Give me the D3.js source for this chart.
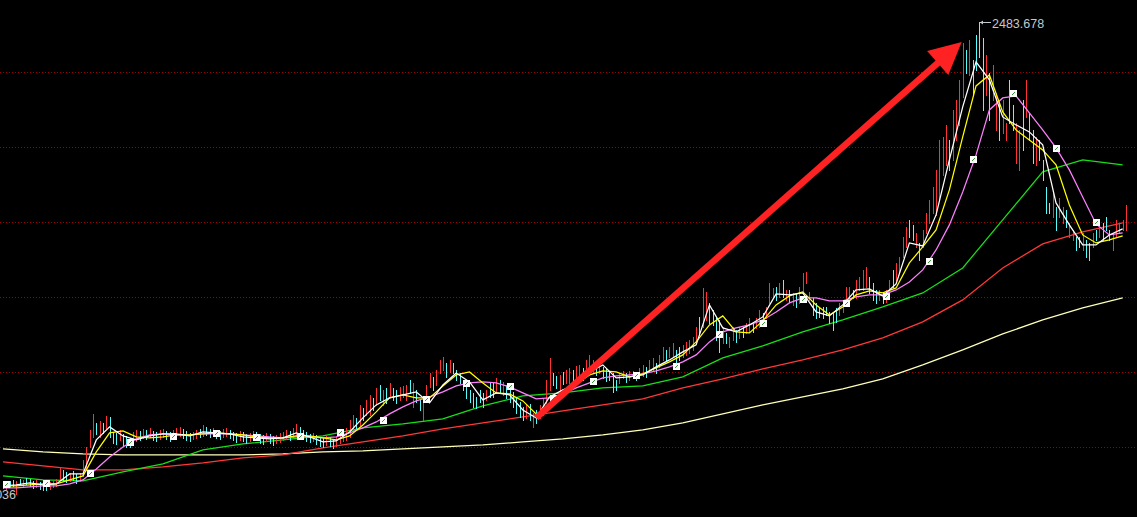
<!DOCTYPE html>
<html>
<head>
<meta charset="utf-8">
<script src="https://cdn.jsdelivr.net/npm/d3@7"></script>
<style>
  body { margin: 0; background: #000; overflow: hidden; }
  svg { display: block; }
</style>
</head>
<body>
<div id="chart"></div>
<script>
// candle highs / lows (index points), one per bar
let highs = [
  644,640,648,652,648,656,652,660,656,648,652,644,640,636,644,648,656,704,692,684,680,688,676,680,732,
  784,852,916,880,888,880,908,904,844,840,852,
  836,828,820,844,852,848,856,852,860,848,844,852,856,848,844,852,860,864,856,848,840,844,852,856,872,864,856,860,852,848,
  856,860,852,844,840,848,844,836,840,848,844,836,832,840,836,828,832,840,844,852,848,860,876,864,852,844,836,840,832,824,
  820,828,824,816,824,836,848,
  860,892,912,900,952,940,972,992,980,1020,1032,1012,1020,
  1040,1020,1012,1024,1028,1032,1052,1040,1012,972,984,1032,1080,1064,1092,1132,1144,1120,1132,1120,1092,1080,1052,1024,1012,1000,984,
  1012,1000,1012,1040,1040,1060,1052,1044,1032,1024,1004,980,964,944,952,956,920,932,952,980,1052,1140,1080,1068,1072,1084,1092,1100,1092,1108,1112,
  1100,1132,1152,1132,1108,1120,1104,1100,1088,1080,1052,1080,1088,1080,1088,1088,1084,1100,1112,1104,1132,
  1140,1120,1152,1184,1172,1184,1200,1172,1184,1192,1204,1212,1224,1264,1304,1420,1404,1360,1332,1300,1292,1264,1240,1224,1264,1252,1264,1264,1280,1300,
  1284,1300,1332,1320,1344,1440,1420,1424,1440,1452,1412,1412,1400,1400,1424,1480,1484,1404,1380,1360,1344,1344,1344,1324,1320,1340,1360,1372,1424,1424,
  1412,1452,1464,1492,1504,1464,1440,1412,1412,1404,1412,1452,1492,1520,1544,
  1624,1664,1692,1672,1640,1600,1652,1720,1772,1824,1892,2012,
  2024,2072,2012,2132,2172,2252,2400,2372,2412,2332,2432,2483.678,2420,2352,2280,2312,2200,2160,2172,2080,2252,2152,2080,2052,2172,2252,2120,2052,2024,2012,
  1932,1824,1760,1800,1744,1780,1744,1732,1680,1652,1624,1624,1640,1612,1600,1640,1652,1680,1680,1704,1652,1640,1692,1680,1692,1752
];
let lows = [
  620,616,624,628,596.036,632,628,636,628,620,624,616,612,612,616,624,628,652,652,644,648,652,640,648,668,
  692,784,824,836,824,840,860,824,800,796,812,
  788,784,784,796,808,812,820,816,824,812,808,816,824,816,808,820,828,828,820,812,808,816,820,824,828,832,824,828,820,816,
  824,828,820,812,804,812,808,800,808,816,812,800,796,808,800,792,800,804,812,816,812,820,828,824,816,808,804,808,796,788,
  784,792,788,780,788,800,808,
  812,824,852,860,872,892,912,912,932,952,972,952,960,
  984,972,960,972,984,972,1000,944,964,932,892,972,1024,1012,1032,1080,1092,1064,1084,1080,1052,1040,1012,980,964,944,940,
  964,944,972,984,984,1000,1004,992,980,964,944,920,904,892,900,892,864,880,900,912,960,1012,1032,1020,1012,1036,1040,1040,1044,1052,1060,
  1052,1072,1080,1084,1072,1080,1060,1048,1052,1004,1012,1040,1060,1044,1052,1064,1052,1060,1068,1064,1084,
  1092,1080,1104,1132,1132,1144,1144,1120,1132,1144,1152,1160,1172,1200,1240,1264,1292,1280,1272,1212,1164,1200,1200,1184,1212,1204,1220,1224,1240,1244,
  1244,1260,1264,1272,1300,1360,1384,1372,1384,1384,1372,1364,1352,1344,1360,1400,1440,1372,1312,1300,1304,1300,1312,1280,1252,1284,1312,1324,1360,1364,
  1380,1380,1412,1412,1424,1400,1372,1360,1372,1360,1364,1384,1424,1452,1480,
  1544,1584,1624,1612,1584,1532,1584,1640,1680,1720,1712,1772,
  1872,1912,1892,1932,2012,2072,2184,2280,2272,2192,2292,2344,2132,2192,2092,2172,2052,2012,2040,2012,2080,2052,1920,1892,1972,2104,2012,1920,1912,1932,
  1852,1720,1720,1704,1652,1704,1680,1664,1624,1612,1572,1584,1572,1544,1532,1584,1612,1624,1612,1652,1612,1572,1624,1640,1652,1652
];
// r = up (red), c = down (cyan)
let dirs = ("crccrcrcccrcccrrrrccrccrr" + "rrrcrcrcccr" +
  "cccrrcrcrc" + "crrccrrrcc" + "crrcrccrcc" + "rrcccrccrr" + "cccrccrrrr" + "crrccccrcc" + "crccrrr" +
  "rrrcrcrrcrcrc" +
  "rccrrrcrcc" + "rrrcrrrcrc" + "cccccccccr" + "ccrcrccccc" + "crcrcrrrrc" + "crcrrcrr" +
  "crrrcrcccccrrcrrcrrcr" +
  "rcrrcrrccr" + "rrrrcrrccc" + "crcrrcrcrr" + "crrcrrrcrc" + "rcrcrrrrcc" + "ccccccrrrr" + "crrrrcccrc" + "rrcrr" +
  "rrccrcrrrrrr" +
  "rrcrrrrcrc" + "cccrcrrcrr" + "ccrrcrccrc" +
  "cccrcrrcrr" + "ccrccrcrcc" + "crrrrr").split("");

// fast moving averages, read every 4th bar
let fastIdx = [0,4,8,12,16,20,24,28,32,36,40,44,48,52,56,60,64,68,72,76,80,84,88,92,96,100,104,108,112,116,
  120,124,128,132,136,140,144,148,152,156,160,164,168,172,176,180,184,188,192,196,200,204,208,212,216,220,224,228,232,236,
  240,244,248,252,256,260,264,268,272,276,280,284,288,292,296,300,304,308,312,316,320,324,328,332,336];
let ma5 = [628,632,640,632,636,676,676,812,864,828, 812,828,836,836,828,844,840,836,824,820,
  816,820,840,824,804,808,844,900,952,980, 992,1004,960,1032,1080,1044,972,1000,992,932,
  900,984,1012,1032,1084,1112,1060,1064,1072,1104, 1132,1164,1192,1352,1260,1244,1272,1304,1396,1392,
  1400,1324,1308,1352,1412,1416,1388,1436,1600,1588, 1712,1932,2144,2324,2252,2104,2072,2044,1992,1760,
  1672,1592,1592,1632,1656];
let ma10 = [628,628,632,636,636,652,668,764,840,848, 824,820,824,832,832,836,840,836,832,824,
  820,820,828,828,820,812,828,872,924,980, 992,980,980,1028,1072,1084,1040,1000,996,968,
  916,940,992,1036,1072,1088,1084,1064,1076,1100, 1124,1152,1204,1272,1308,1244,1240,1288,1352,1388,
  1404,1352,1312,1344,1392,1408,1400,1420,1520,1584, 1652,1812,2024,2228,2272,2124,2052,2012,1972,1912,
  1752,1632,1600,1612,1628];
let ma20 = [620,620,624,628,628,636,652,696,744,784, 816,832,836,832,832,836,836,836,832,828,
  824,820,824,824,820,824,840,860,884,916, 944,968,984,1004,1028,1040,1044,1040,1024,1000,
  976,980,996,1020,1040,1060,1068,1072,1076,1088, 1104,1124,1152,1204,1244,1260,1272,1292,1324,1360,
  1380,1380,1368,1368,1384,1392,1392,1412,1444,1492, 1572,1672,1804,1952,2132,2180,2188,2120,2052,1980,
  1892,1784,1676,1632,1640];

// slow moving averages, read every 12th bar
let slowIdx = [0,12,24,36,48,60,72,84,96,108,120,132,144,156,168,180,192,204,216,228,240,252,264,276,288,300,312,324,336];
let ma60 = [668,652,648,684,716,772,796,812,828,860,876,896,948,988,1000,1020,1028,1064,1140,1188,1244,1292,1344,1400,1500,1692,1884,1932,1912];
let ma120 = [724,708,692,692,704,720,740,752,780,804,828,856,880,904,928,952,976,1020,1056,1096,1132,1172,1220,1284,1372,1500,1596,1644,1680];
let ma250 = [776,764,756,752,752,752,752,756,764,768,776,784,792,804,816,832,852,880,916,952,984,1016,1056,1112,1172,1236,1292,1340,1380];

// month markers sitting on the 20-bar average
let markIdx = [1,13,26,38,51,64,76,89,101,114,127,139,152,165,177,190,202,215,228,240,253,265,278,291,303,316,328];
let markVal = [636,640,680,804,828,840,824,828,844,892,976,1040,1028,980,1048,1072,1108,1236,1280,1376,1360,1388,1528,1936,2200,1980,1684];

let gridValues = [2284, 1984, 1684, 1384, 1084, 784];
let arrowFrom = [160, 900], arrowTo = [287.7, 2404];

if (highs.length !== lows.length || highs.length !== dirs.length) {
  throw new Error("length mismatch " + highs.length + " " + lows.length + " " + dirs.length);
}

let width = 1137, height = 517;

let svg = d3.select("#chart").append("svg")
  .attr("width", width)
  .attr("height", height)
  .style("background", "#000");

let x = d3.scaleLinear().domain([0, highs.length - 1]).range([3, 1126]);
let y = d3.scaleLinear().domain([503.678, 2571.678]).range([height, 0]);
let px = v => Math.round(v) + 0.5;

// dotted grid
svg.append("g").selectAll("line").data(gridValues).enter().append("line")
  .attr("x1", 0).attr("x2", width)
  .attr("y1", d => px(y(d))).attr("y2", d => px(y(d)))
  .attr("stroke", "#a00000")
  .attr("stroke-dasharray", "1,2")
  .attr("shape-rendering", "crispEdges");

function maLine(idx, vals, color) {
  let line = d3.line().x((d, k) => x(idx[k])).y(d => y(d));
  svg.append("path").datum(vals)
    .attr("d", line)
    .attr("fill", "none")
    .attr("stroke", color)
    .attr("stroke-width", 1.25);
}

maLine(slowIdx, ma250, "#ffffb8");
maLine(slowIdx, ma120, "#ff3838");
maLine(slowIdx, ma60, "#18e018");

// candles
svg.append("g").selectAll("line").data(highs).enter().append("line")
  .attr("x1", (d, i) => px(x(i))).attr("x2", (d, i) => px(x(i)))
  .attr("y1", d => Math.round(y(d)))
  .attr("y2", (d, i) => Math.round(y(lows[i])) + 1)
  .attr("stroke", (d, i) => dirs[i] === "r" ? "#ff3232" : "#54fcfc")
  .attr("stroke-width", 1)
  .attr("shape-rendering", "crispEdges");

maLine(fastIdx, ma20, "#ff80ff");
maLine(fastIdx, ma10, "#ffff00");
maLine(fastIdx, ma5, "#ffffff");

// markers
let marks = svg.append("g").selectAll("g").data(markIdx).enter().append("g")
  .attr("transform", (d, k) => "translate(" + Math.round(x(d)) + "," + Math.round(y(markVal[k])) + ")");
marks.append("rect")
  .attr("x", -3).attr("y", -3).attr("width", 7).attr("height", 7)
  .attr("fill", "#ffffff")
  .attr("shape-rendering", "crispEdges");
marks.append("line")
  .attr("x1", -1).attr("y1", 2).attr("x2", 2).attr("y2", -1)
  .attr("stroke", "#3a9a3a").attr("stroke-width", 1);

// big red arrow
let ax0 = x(arrowFrom[0]), ay0 = y(arrowFrom[1]);
let ax1 = x(arrowTo[0]), ay1 = y(arrowTo[1]);
let len = Math.hypot(ax1 - ax0, ay1 - ay0);
let ux = (ax1 - ax0) / len, uy = (ay1 - ay0) / len;
let headL = 32, headW = 16;
let bx = ax1 - ux * headL, by = ay1 - uy * headL;
svg.append("line")
  .attr("x1", ax0).attr("y1", ay0).attr("x2", bx + ux * 2).attr("y2", by + uy * 2)
  .attr("stroke", "#ff2222").attr("stroke-width", 6.5);
svg.append("path")
  .attr("d", "M" + ax1 + "," + ay1 +
    "L" + (bx - uy * headW) + "," + (by + ux * headW) +
    "L" + (bx + uy * headW) + "," + (by - ux * headW) + "Z")
  .attr("fill", "#ff2222");

// max / min labels
let iMax = d3.maxIndex(highs), iMin = d3.minIndex(lows);
let mx = Math.round(x(iMax)) + 1, my = px(y(highs[iMax]));
svg.append("line")
  .attr("x1", mx).attr("x2", mx + 11).attr("y1", my).attr("y2", my)
  .attr("stroke", "#c0c8d0").attr("shape-rendering", "crispEdges");
svg.append("path")
  .attr("d", "M" + mx + "," + my + "l3,-2l0,4z")
  .attr("fill", "#c0c8d0");
svg.append("text")
  .attr("x", mx + 12).attr("y", my + 5)
  .attr("fill", "#c0c8d0")
  .style("font-family", "Arial, 'Liberation Sans', sans-serif")
  .style("font-size", "12.5px")
  .text(d3.format(".3f")(highs[iMax]));

svg.append("text")
  .attr("x", Math.round(x(iMin))).attr("y", Math.round(y(lows[iMin])) + 5)
  .attr("text-anchor", "end")
  .attr("fill", "#c0c8d0")
  .style("font-family", "Arial, 'Liberation Sans', sans-serif")
  .style("font-size", "12.5px")
  .text(d3.format(".3f")(lows[iMin]));
</script>
</body>
</html>
